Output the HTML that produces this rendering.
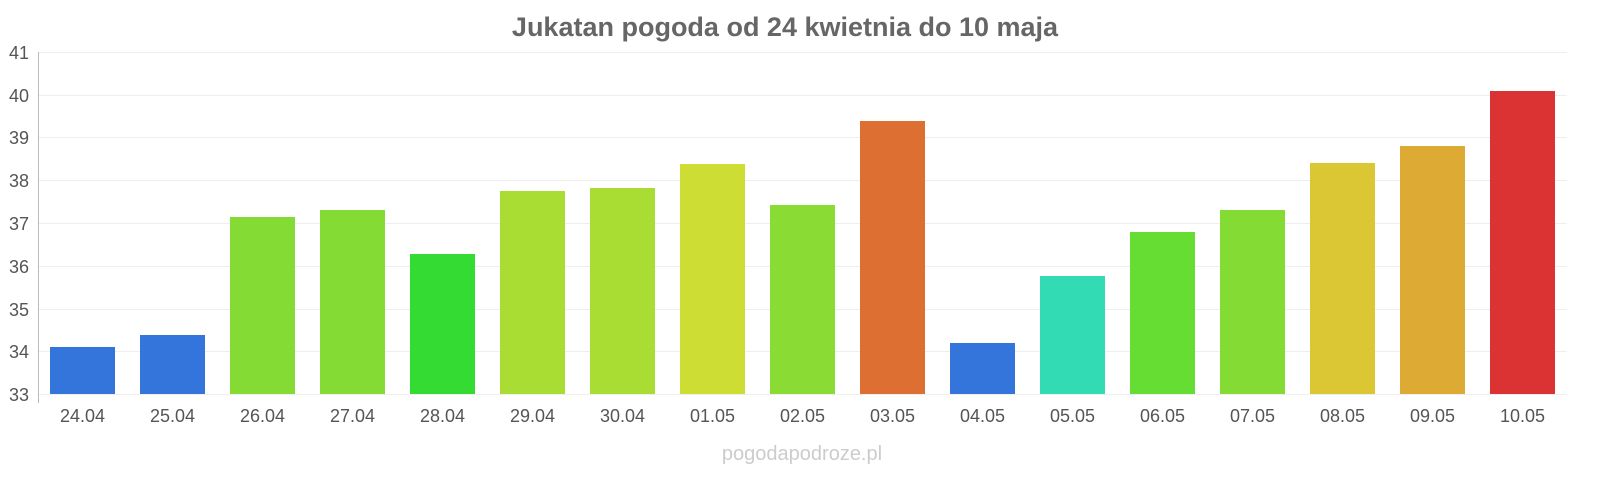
<!DOCTYPE html><html><head><meta charset="utf-8"><style>body{margin:0;background:#fff}svg{display:block;font-family:"Liberation Sans",sans-serif}</style></head><body>
<svg width="1600" height="480" viewBox="0 0 1600 480">
<text x="785" y="36" text-anchor="middle" font-size="27" font-weight="bold" fill="#666">Jukatan pogoda od 24 kwietnia do 10 maja</text>
<g stroke="#eee" stroke-width="1">
<line x1="38" x2="1567" y1="52.5" y2="52.5"/><line x1="38" x2="1567" y1="95.5" y2="95.5"/><line x1="38" x2="1567" y1="137.5" y2="137.5"/><line x1="38" x2="1567" y1="180.5" y2="180.5"/><line x1="38" x2="1567" y1="223.5" y2="223.5"/><line x1="38" x2="1567" y1="266.5" y2="266.5"/><line x1="38" x2="1567" y1="309.5" y2="309.5"/><line x1="38" x2="1567" y1="351.5" y2="351.5"/><line x1="38" x2="1567" y1="394.5" y2="394.5"/>
</g>
<line x1="38.5" x2="38.5" y1="52" y2="403" stroke="#bbb"/>
<g font-size="18" fill="#555" text-anchor="end">
<text x="29" y="59">41</text><text x="29" y="102">40</text><text x="29" y="144">39</text><text x="29" y="187">38</text><text x="29" y="230">37</text><text x="29" y="273">36</text><text x="29" y="316">35</text><text x="29" y="358">34</text><text x="29" y="401">33</text>
</g>
<g>
<rect x="50" y="347" width="65" height="47" fill="#3375db"/>
<rect x="140" y="335" width="65" height="59" fill="#3375db"/>
<rect x="230" y="217" width="65" height="177" fill="#84db33"/>
<rect x="320" y="210" width="65" height="184" fill="#84db33"/>
<rect x="410" y="254" width="65" height="140" fill="#33db33"/>
<rect x="500" y="191" width="65" height="203" fill="#a9dd33"/>
<rect x="590" y="188" width="65" height="206" fill="#a9dd33"/>
<rect x="680" y="164" width="65" height="230" fill="#cedd33"/>
<rect x="770" y="205" width="65" height="189" fill="#8adb33"/>
<rect x="860" y="121" width="65" height="273" fill="#dd6f33"/>
<rect x="950" y="343" width="65" height="51" fill="#3375db"/>
<rect x="1040" y="276" width="65" height="118" fill="#33dbb5"/>
<rect x="1130" y="232" width="65" height="162" fill="#66dd33"/>
<rect x="1220" y="210" width="65" height="184" fill="#84db33"/>
<rect x="1310" y="163" width="65" height="231" fill="#dbc633"/>
<rect x="1400" y="146" width="65" height="248" fill="#ddaa33"/>
<rect x="1490" y="91" width="65" height="303" fill="#db3333"/>
</g>
<g font-size="18" fill="#555" text-anchor="middle">
<text x="82.5" y="422">24.04</text><text x="172.5" y="422">25.04</text><text x="262.5" y="422">26.04</text><text x="352.5" y="422">27.04</text><text x="442.5" y="422">28.04</text><text x="532.5" y="422">29.04</text><text x="622.5" y="422">30.04</text><text x="712.5" y="422">01.05</text><text x="802.5" y="422">02.05</text><text x="892.5" y="422">03.05</text><text x="982.5" y="422">04.05</text><text x="1072.5" y="422">05.05</text><text x="1162.5" y="422">06.05</text><text x="1252.5" y="422">07.05</text><text x="1342.5" y="422">08.05</text><text x="1432.5" y="422">09.05</text><text x="1522.5" y="422">10.05</text>
</g>
<text x="802" y="460" text-anchor="middle" font-size="20" fill="#ccc">pogodapodroze.pl</text>
</svg></body></html>
